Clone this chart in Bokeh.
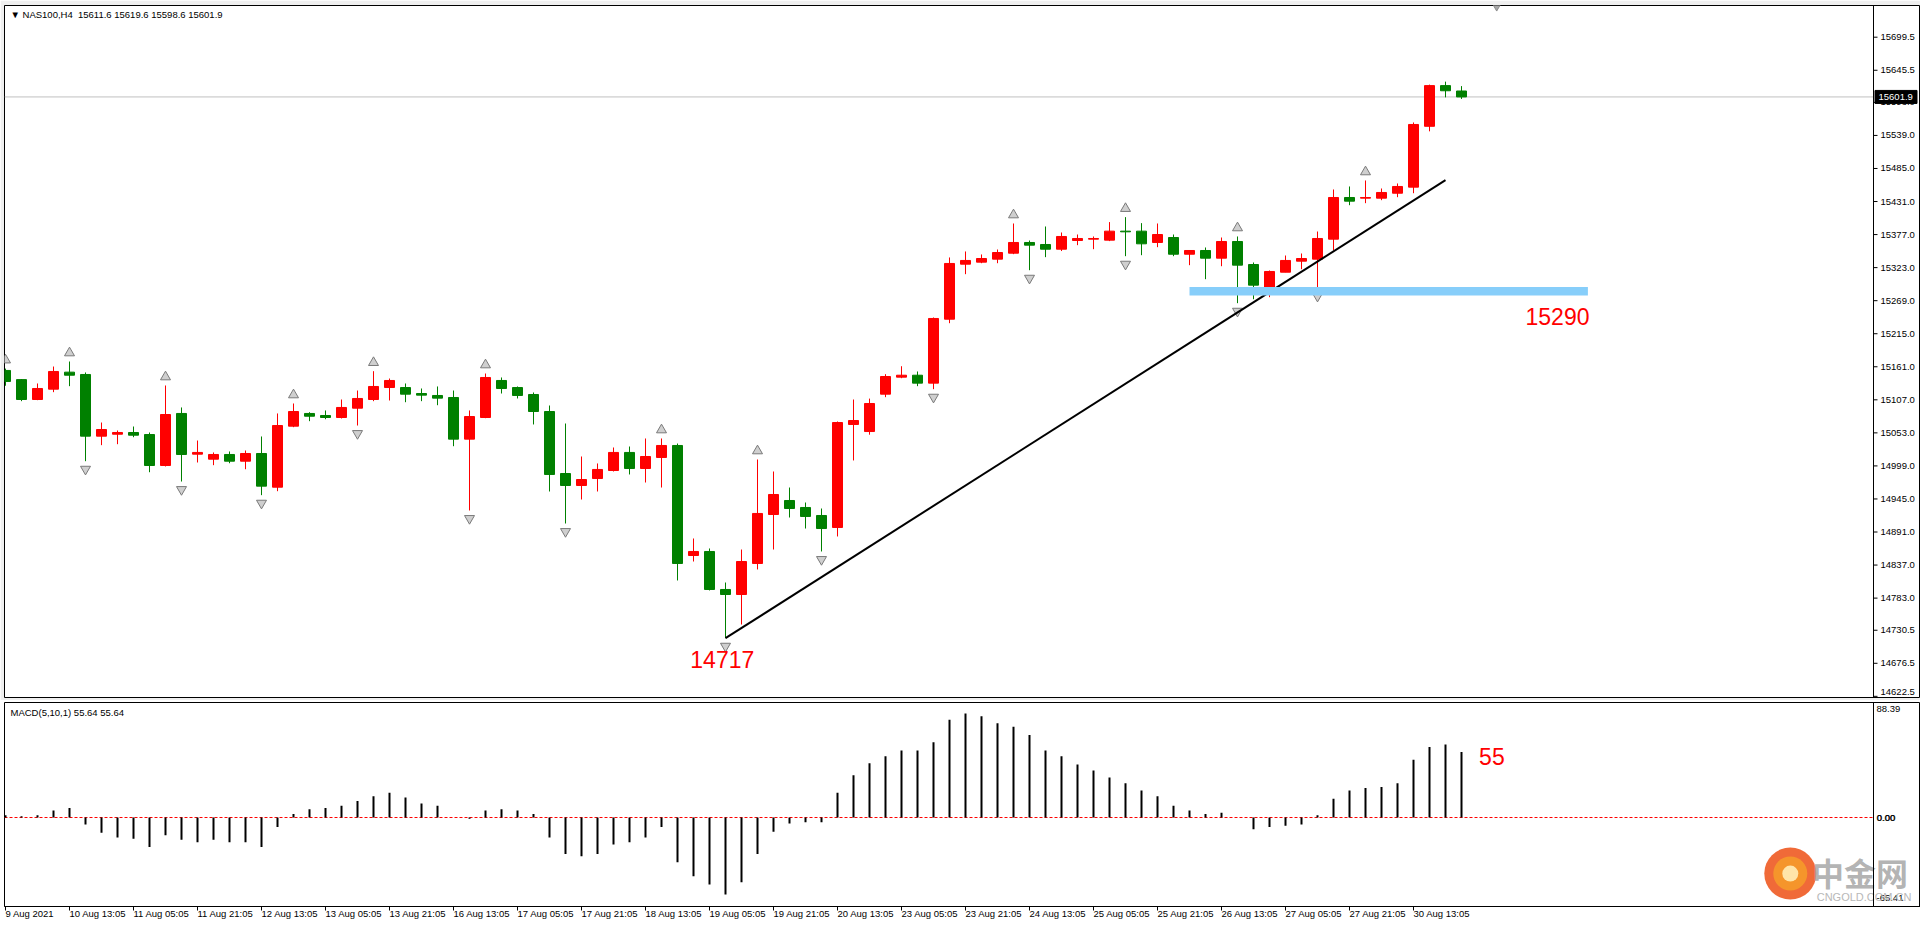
from bokeh.plotting import figure
from bokeh.layouts import column
from bokeh.models import (ColumnDataSource, FixedTicker, Span, Label, Range1d, BoxAnnotation)
from bokeh.embed import file_html
from bokeh.resources import INLINE
from bokeh.core.properties import value

# ---------------- data ----------------
opens = [15155.0, 15140.0, 15107.5, 15124.4, 15152.2, 15148.4, 15047.6, 15050.8, 15053.6, 15050.3,
         14999.7, 15084.7, 15018.2, 15010.0, 15017.7, 15006.7, 15019.3, 14964.2, 15063.9, 15084.7,
         15081.4, 15078.1, 15093.3, 15107.5, 15127.1, 15127.1, 15117.3, 15114.1, 15110.8, 15042.7,
         15078.1, 15138.6, 15127.1, 15115.7, 15087.9, 14986.6, 14967.0, 14978.4, 14991.5, 15021.0,
         14994.8, 15012.8, 15032.4, 14852.6, 14859.2, 14797.1, 14788.9, 14839.6, 14919.6, 14942.5,
         14931.1, 14918.0, 14898.4, 15066.7, 15055.2, 15116.2, 15144.0, 15147.2, 15134.2, 15238.7,
         15328.6, 15331.9, 15336.8, 15346.6, 15364.1, 15360.8, 15353.1, 15367.3, 15369.5, 15367.9,
         15382.6, 15382.6, 15364.1, 15372.2, 15344.9, 15351.0, 15338.4, 15365.7, 15328.1, 15291.0,
         15315.5, 15333.5, 15336.8, 15369.5, 15437.6, 15436.5, 15436.5, 15444.6, 15454.5, 15553.9,
         15620.4, 15611.6]
highs = [15158.0, 15141.0, 15133.7, 15161.4, 15169.6, 15151.7, 15069.9, 15056.9, 15063.4, 15053.6,
         15130.4, 15094.5, 15040.5, 15021.0, 15022.6, 15024.2, 15047.1, 15084.7, 15101.0, 15086.8,
         15089.6, 15107.5, 15122.2, 15153.8, 15141.8, 15133.7, 15125.5, 15128.8, 15122.2, 15089.6,
         15150.0, 15143.5, 15128.8, 15119.0, 15097.7, 15068.3, 15014.4, 15003.0, 15029.1, 15030.7,
         15043.8, 15043.8, 15035.6, 14880.4, 14864.1, 14808.5, 14862.4, 15009.5, 14989.9, 14963.7,
         14939.2, 14929.4, 15071.6, 15107.5, 15109.0, 15148.9, 15161.9, 15153.3, 15241.5, 15339.6,
         15349.4, 15344.5, 15352.6, 15395.1, 15367.3, 15390.2, 15380.4, 15377.1, 15373.9, 15397.4,
         15405.5, 15395.7, 15395.1, 15377.1, 15351.0, 15355.9, 15372.2, 15373.9, 15331.4, 15318.3,
         15342.8, 15346.1, 15382.0, 15450.7, 15455.6, 15465.4, 15452.3, 15460.5, 15560.2, 15622.0,
         15626.9, 15619.6]
lows = [15130.0, 15104.8, 15106.4, 15119.5, 15129.3, 15006.7, 15032.9, 15034.5, 15045.9, 14988.7,
        14998.1, 14973.5, 15004.6, 15000.2, 15003.4, 14993.6, 14951.2, 14957.7, 15062.3, 15072.1,
        15075.3, 15076.5, 15065.0, 15104.8, 15105.9, 15103.1, 15104.8, 15098.2, 15031.2, 14926.2,
        15077.0, 15117.3, 15109.2, 15066.7, 14957.2, 14904.9, 14944.1, 14957.2, 14989.9, 14985.0,
        14971.9, 14963.7, 14811.8, 14842.8, 14795.5, 14717.5, 14739.9, 14829.8, 14862.4, 14914.7,
        14896.7, 14859.2, 14883.7, 15007.9, 15050.0, 15111.3, 15142.3, 15129.3, 15124.4, 15232.2,
        15312.3, 15330.2, 15330.2, 15345.0, 15318.8, 15340.1, 15350.1, 15359.7, 15353.1, 15366.3,
        15341.7, 15343.3, 15356.4, 15341.7, 15327.0, 15304.1, 15325.3, 15264.9, 15271.4, 15274.7,
        15315.5, 15320.4, 15289.4, 15351.5, 15425.0, 15428.3, 15433.2, 15438.1, 15444.6, 15545.7,
        15601.2, 15598.6]
closes = [15137.0, 15107.5, 15125.5, 15153.3, 15147.2, 15047.6, 15058.5, 15053.6, 15049.2, 14999.7,
          15083.0, 15017.7, 15021.0, 15017.7, 15006.7, 15019.3, 14965.9, 15065.0, 15087.9, 15080.2,
          15078.1, 15094.5, 15109.2, 15128.8, 15138.6, 15116.2, 15114.6, 15109.7, 15042.7, 15079.7,
          15143.5, 15125.5, 15114.1, 15087.9, 14985.0, 14967.0, 14976.8, 14993.2, 15021.0, 14994.8,
          15014.4, 15032.4, 14839.6, 14859.2, 14797.1, 14788.9, 14842.8, 14921.3, 14952.3, 14929.4,
          14916.4, 14896.7, 15069.9, 15073.2, 15101.0, 15145.1, 15147.2, 15134.2, 15239.9, 15329.8,
          15334.7, 15337.9, 15347.7, 15364.1, 15359.7, 15353.1, 15373.9, 15370.6, 15370.6, 15382.6,
          15381.5, 15361.9, 15377.1, 15344.9, 15351.0, 15338.4, 15365.7, 15327.0, 15294.3, 15316.7,
          15334.7, 15337.9, 15370.6, 15437.6, 15431.6, 15437.6, 15445.8, 15455.6, 15556.9, 15620.4,
          15612.0, 15601.9]

macd_hist = [2, 1, 2, 6, 8, -6, -13, -17, -18, -25,
             -15, -19, -21, -19, -21, -21, -25, -8, 3, 7,
             8, 10, 14, 18, 21, 17, 12, 10, 0, -1,
             6, 7, 6, 3, -17, -31, -33, -31, -23, -21,
             -17, -8, -38, -50, -57, -65.41, -55, -31, -12, -5,
             -4, -4, 21, 36, 46, 52, 57, 57, 64, 83,
             88.39, 86, 80, 77, 70, 57, 52, 45, 40, 34,
             29, 23, 18, 10, 6, 3, 4, 0, -10, -8,
             -7, -6, 2, 16, 23, 25, 26, 29, 49, 60,
             62, 55.64]

price_ticks = [15699.5, 15645.5, 15593.0, 15539.0, 15485.0, 15431.0, 15377.0, 15323.0,
               15269.0, 15215.0, 15161.0, 15107.0, 15053.0, 14999.0, 14945.0, 14891.0,
               14837.0, 14783.0, 14730.5, 14676.5, 14622.5]
price_tick_labels = ["15699.5", "15645.5", "15593.0", "15539.0", "15485.0", "15431.0", "15377.0",
                     "15323.0", "15269.0", "15215.0", "15161.0", "15107.0", "15053.0", "14999.0",
                     "14945.0", "14891.0", "14837.0", "14783.0", "14730.5", "14676.5", "14622.5"]
macd_ticks = [88.39, 0.0, -65.41]
macd_tick_labels = ["88.39", "0.00", "-65.41"]

date_tick_bars = [0, 4, 8, 12, 16, 20, 24, 28, 32, 36, 40, 44,
                  48, 52, 56, 60, 64, 68, 72, 76, 80, 84, 88]
date_labels = ["9 Aug 2021", "10 Aug 13:05", "11 Aug 05:05", "11 Aug 21:05", "12 Aug 13:05",
               "13 Aug 05:05", "13 Aug 21:05", "16 Aug 13:05", "17 Aug 05:05", "17 Aug 21:05",
               "18 Aug 13:05", "19 Aug 05:05", "19 Aug 21:05", "20 Aug 13:05", "23 Aug 05:05",
               "23 Aug 21:05", "24 Aug 13:05", "25 Aug 05:05", "25 Aug 21:05", "26 Aug 13:05",
               "27 Aug 05:05", "27 Aug 21:05", "30 Aug 13:05"]

fractal_up = [0, 4, 10, 18, 23, 30, 41, 47, 63, 70, 77, 85]
fractal_down = [5, 11, 16, 22, 29, 35, 45, 51, 58, 64, 70, 77, 82]

current_price = 15601.9
current_price_text = "15601.9"
chart_shift_bar = 93.2
trend_x = [45, 90]
trend_y = [14717.5, 15466.0]
support_x = [74.0, 98.9]
support_y = [15277.5, 15291.5]
header = "\u25bc NAS100,H4\u00a0\u00a015611.6 15619.6 15598.6 15601.9"
macd_header = "MACD(5,10,1) 55.64 55.64"
note_low = "14717"
note_support = "15290"
note_macd = "55"

# ---------------- styling ----------------
FONT = "Liberation Sans"
FS = "9.5px"
RED = "#FF0000"
GREEN = "#008000"
PX = 1.0 / 16.0            # one screen pixel in bar units (16 px per bar)
X0 = -0.0625               # left edge of the chart frame
AX = 116.75                # x position of the price-axis line
X1 = X0 + 1916 * PX        # right edge of the canvas
Y_LO, Y_HI = 14620.6, 15751.3

N = len(closes)
xs = list(range(N))
colors = [RED if c >= o else GREEN for o, c in zip(opens, closes)]
src = ColumnDataSource(dict(
    x=xs, o=opens, h=highs, l=lows, c=closes,
    top=[max(o, c) for o, c in zip(opens, closes)],
    bot=[min(o, c) for o, c in zip(opens, closes)],
    color=colors))

xr = Range1d(X0, X1)
p = figure(width=1920, height=700, output_backend="svg", toolbar_location=None,
           x_range=xr, y_range=Range1d(Y_LO, Y_HI),
           x_axis_location=None, y_axis_location=None,
           min_border_left=4, min_border_right=0, min_border_top=5, min_border_bottom=3)
p.grid.visible = False
p.outline_line_color = "black"
p.border_fill_color = "#EFEFEF"

# current price line (up to the axis)
p.segment(x0=[X0], y0=[current_price], x1=[AX], y1=[current_price], line_color="#C0C0C0", line_width=1)

# support band
p.add_layout(BoxAnnotation(left=support_x[0], right=support_x[1], bottom=support_y[0], top=support_y[1],
                           fill_color="#87CEFA", fill_alpha=1.0, line_color=None))

# candles
p.segment(x0="x", y0="l", x1="x", y1="h", line_color="color", line_width=1, source=src)
p.vbar(x="x", width=0.625, top="top", bottom="bot", fill_color="color", line_color="color",
       line_width=1, source=src)

# fractal arrows
p.scatter(fractal_up, [highs[i] + 14 for i in fractal_up], marker="triangle",
          size=10, fill_color="#CFCFCF", line_color="#7A7A7A", line_width=1)
p.scatter(fractal_down, [lows[i] - 13 for i in fractal_down], marker="inverted_triangle",
          size=10, fill_color="#CFCFCF", line_color="#7A7A7A", line_width=1)

# chart-shift marker at the top edge
p.scatter([chart_shift_bar], [Y_HI - 2.5], marker="inverted_triangle", size=7,
          fill_color="#A8A8A8", line_color="#8A8A8A")

# trend line
p.line(trend_x, trend_y, line_color="black", line_width=2)

# red notes
p.text(x=[44.8], y=[14682.7], text=[note_low], text_color=RED, text_font=value(FONT),
       text_font_size="23px", text_align="center", text_baseline="middle")
p.text(x=[97.0], y=[15243.2], text=[note_support], text_color=RED, text_font=value(FONT),
       text_font_size="23px", text_align="center", text_baseline="middle")

# price scale (MT4 style, on the right)
p.add_layout(Span(location=AX, dimension="height", line_color="black", line_width=1))
nt = len(price_ticks)
p.segment(x0=[AX] * nt, y0=price_ticks, x1=[AX + 4 * PX] * nt, y1=price_ticks,
          line_color="black", line_width=1)
label_y = [max(t, Y_LO + 9.0) for t in price_ticks]   # keep the lowest label inside the frame
p.text(x=[AX + 7 * PX] * nt, y=label_y, text=price_tick_labels, text_color="black",
       text_font=value(FONT), text_font_size=FS, text_align="left", text_baseline="middle")
# current price box
p.rect(x=[AX + 22.5 * PX], y=[current_price], width=42, height=13, width_units="screen",
       height_units="screen", fill_color="black", line_color="black")
p.text(x=[AX + 5 * PX], y=[current_price], text=[current_price_text], text_color="white",
       text_font=value(FONT), text_font_size=FS, text_align="left", text_baseline="middle")

# header
p.add_layout(Label(x=X0, y=Y_HI, x_offset=6, y_offset=-3, text=header,
                   text_font=FONT, text_font_size=FS, text_color="black", text_baseline="top"))

# ---------------- MACD panel ----------------
MACD_LO, MACD_HI = -75.6, 97.7
p2 = figure(width=1920, height=227, output_backend="svg", toolbar_location=None,
            x_range=xr, y_range=Range1d(MACD_LO, MACD_HI),
            x_axis_location="below", y_axis_location=None,
            min_border_left=4, min_border_right=0, min_border_top=2, min_border_bottom=21)
p2.grid.visible = False
p2.outline_line_color = "black"
p2.border_fill_color = "white"

msrc = ColumnDataSource(dict(x=xs, v=macd_hist, z=[0] * N))
p2.segment(x0=[X0], y0=[0], x1=[AX], y1=[0], line_color=RED, line_width=1, line_dash="3 2")
p2.segment(x0="x", y0="z", x1="x", y1="v", line_color="black", line_width=2, source=msrc)

# MACD scale
p2.add_layout(Span(location=AX, dimension="height", line_color="black", line_width=1))
p2.text(x=[AX + 3 * PX] * 3, y=[92.6, 0.0, -68.8], text=macd_tick_labels, text_color="black",
        text_font=value(FONT), text_font_size=FS, text_align="left", text_baseline="middle")
p2.text(x=[AX + 3.6 * PX], y=[0.0], text=[macd_tick_labels[1]], text_color="black",
        text_font=value(FONT), text_font_size=FS, text_align="left", text_baseline="middle")

# date axis (real axis, labels start at the tick like MT4)
x2 = p2.xaxis[0]
x2.ticker = FixedTicker(ticks=date_tick_bars)
x2.major_label_overrides = {b: lab for b, lab in zip(date_tick_bars, date_labels)}
x2.major_label_orientation = -1e-6
x2.major_tick_out = 4
x2.major_tick_in = 0
x2.minor_tick_out = 0
x2.minor_tick_in = 0
x2.axis_line_color = "black"
x2.major_label_standoff = 3
x2.major_label_text_font = FONT
x2.major_label_text_font_size = FS
x2.major_label_text_color = "black"

p2.add_layout(Label(x=X0, y=MACD_HI, x_offset=6, y_offset=-4, text=macd_header,
                    text_font=FONT, text_font_size=FS, text_color="black", text_baseline="top"))
p2.text(x=[92.9], y=[51.8], text=[note_macd], text_color=RED, text_font=value(FONT),
        text_font_size="23px", text_align="center", text_baseline="middle")

# watermark of the source site (bottom right)
p2.scatter([111.55], [-47.6], marker="circle", size=52, fill_color="#EE5A22", line_color=None, alpha=0.9)
p2.scatter([111.55], [-47.6], marker="circle", size=34, fill_color="#F59A2A", line_color=None, alpha=0.9)
p2.scatter([111.55], [-47.6], marker="circle", size=16, fill_color="#FFE9B0", line_color=None, alpha=0.95)
p2.text(x=[112.9], y=[-46.7], text=["中金网"], text_color="#A0A0A0",
        text_font=value("Noto Sans CJK SC"), text_font_size="32px", text_font_style="bold",
        text_align="left", text_baseline="middle", alpha=0.8)
p2.text(x=[113.2], y=[-67.5], text=["CNGOLD.COM.CN"], text_color="#B8B8B8",
        text_font=value(FONT), text_font_size="11px", text_align="left", text_baseline="middle")

layout = column(p, p2, spacing=0)
open("out.html", "w").write(file_html(layout, INLINE))
